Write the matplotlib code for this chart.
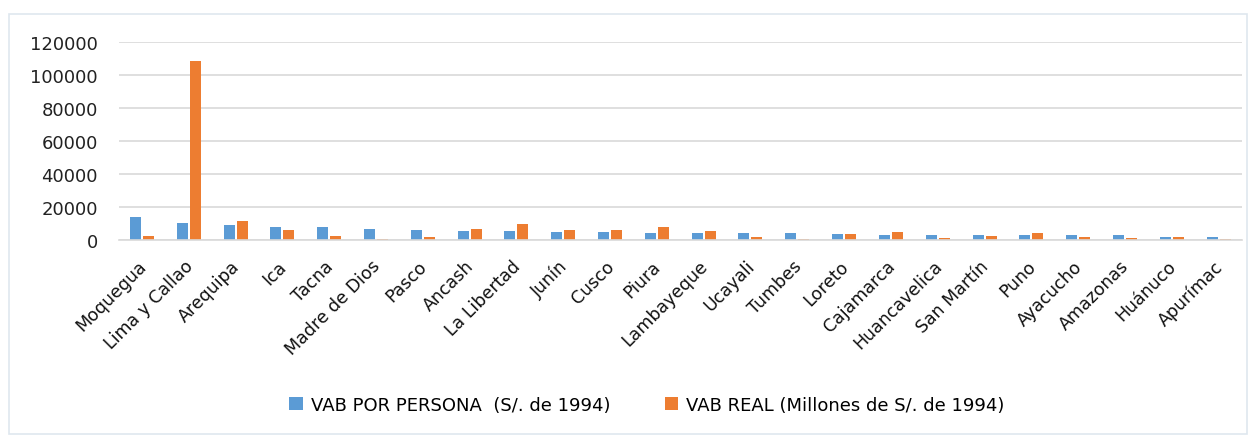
import matplotlib.pyplot as plt
import matplotlib.transforms as mtransforms
import numpy as np
from matplotlib.patches import Rectangle

regiones = ['Moquegua', 'Lima y Callao', 'Arequipa', 'Ica', 'Tacna', 'Madre de Dios',
            'Pasco', 'Ancash', 'La Libertad', 'Junín', 'Cusco', 'Piura', 'Lambayeque',
            'Ucayali', 'Tumbes', 'Loreto', 'Cajamarca', 'Huancavelica', 'San Martín',
            'Puno', 'Ayacucho', 'Amazonas', 'Huánuco', 'Apurímac']
vab_persona = [13700, 10500, 9100, 8100, 7900, 6500, 6100, 5700, 5300, 4600, 4600, 4200,
               4200, 4000, 4000, 3600, 3200, 3000, 3000, 3000, 2800, 2800, 2000, 1800]
vab_real = [2200, 108500, 11300, 6100, 2400, 700, 1600, 6500, 9500, 6100, 5900, 7700,
            5300, 1800, 700, 3600, 4900, 1200, 2300, 4200, 1800, 1200, 1800, 700]
yticks = [0, 20000, 40000, 60000, 80000, 100000, 120000]

plt.rcParams['font.family'] = ['DejaVu Sans']

fig = plt.figure(figsize=(12.55, 4.39), dpi=100)
fig.patches.append(Rectangle((9 / 1255, 4 / 439), 1238 / 1255, 420 / 439, transform=fig.transFigure,
                             fill=False, edgecolor='#dfe7ef', linewidth=1.2))
ax = fig.add_axes([0.0945, 0.451, 0.8951, 0.451])

x = np.arange(len(regiones))
w = 0.235
ax.bar(x - 0.139, vab_persona, w, color='#5B9BD5', label='VAB POR PERSONA  (S/. de 1994)')
ax.bar(x + 0.139, vab_real, w, color='#ED7D31', label='VAB REAL (Millones de S/. de 1994)')

ax.set_xlim(-0.5, len(regiones) - 0.5)
ax.set_ylim(0, 120000)
ax.set_yticks(yticks)
ax.set_yticklabels([str(v) for v in yticks], fontsize=13, color='#222222')
ax.set_xticks(x)
ax.set_xticklabels(regiones, rotation=45, ha='right', rotation_mode='anchor',
                   fontsize=12.5, color='#111111')
ax.tick_params(axis='both', length=0)
ax.tick_params(axis='y', pad=15)
ax.tick_params(axis='x', pad=12)
# nudge rotated labels a little to the left, like the original
shift = mtransforms.ScaledTranslation(-5 / 100, 0, fig.dpi_scale_trans)
for lbl in ax.get_xticklabels():
    lbl.set_transform(lbl.get_transform() + shift)
for s in ['top', 'right', 'left']:
    ax.spines[s].set_visible(False)
ax.spines['bottom'].set_color('#d9d9d9')
ax.spines['bottom'].set_linewidth(1.2)
ax.yaxis.grid(True, color='#d9d9d9', linewidth=1.2)
ax.set_axisbelow(True)

leg = fig.legend(loc='center', bbox_to_anchor=(647 / 1255, 1 - 406 / 439), ncol=2, frameon=False,
                 handlelength=0.75, handleheight=0.75, handletextpad=0.45, columnspacing=3.0,
                 prop={'size': 13})

fig.savefig('out.png', dpi=100)
